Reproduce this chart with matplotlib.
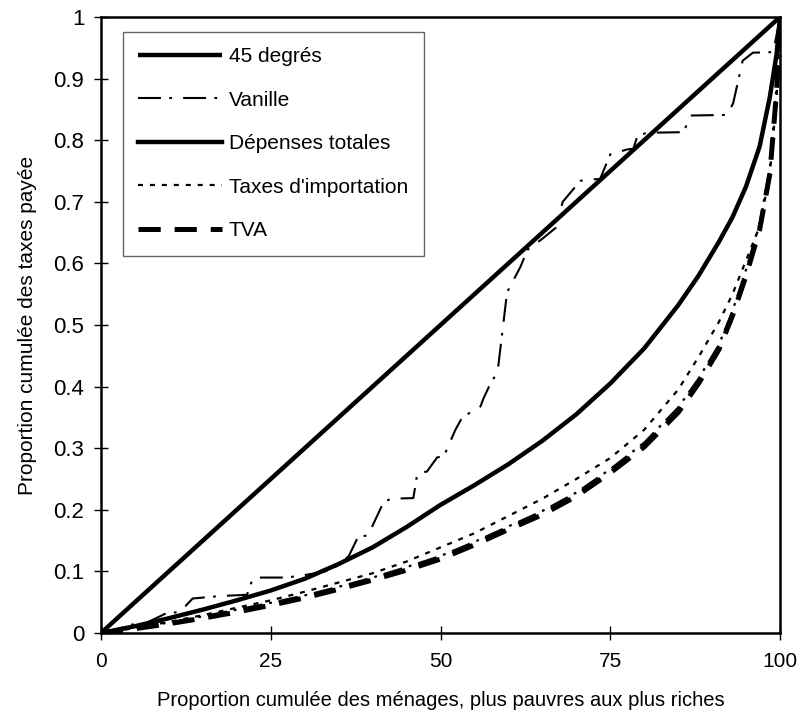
import numpy as np
import matplotlib
matplotlib.use("Agg")
import matplotlib.pyplot as plt

plt.rcParams['font.family'] = ['Liberation Sans', 'DejaVu Sans']
plt.rcParams['lines.scale_dashes'] = False

# Data
x_45 = [0, 100]
y_45 = [0, 1]

x_vanille = [0, 2, 4.7, 6.6, 9.6, 11.6, 13.5, 14.5, 17.5, 21.5, 22.4, 27.3, 30, 33, 35,
             36.5, 37.9, 39.3, 41.6, 42.7, 46, 46.6, 48, 49.5, 50.5, 52.2, 53.2, 55.9,
             56.3, 57.4, 58.4, 59.8, 61.8, 62.8, 65, 67, 68, 70.6, 71.8, 73.5, 75, 77.5,
             78.4, 79, 80.4, 85.8, 86.8, 92.2, 93.1, 94.5, 96, 99, 100]
y_vanille = [0, 0.005, 0.014, 0.016, 0.032, 0.034, 0.056, 0.057, 0.060, 0.062, 0.09,
             0.09, 0.094, 0.10, 0.11, 0.125, 0.157, 0.158, 0.212, 0.218, 0.219, 0.26,
             0.262, 0.285, 0.287, 0.33, 0.35, 0.368, 0.38, 0.406, 0.423, 0.553, 0.595,
             0.622, 0.64, 0.658, 0.70, 0.734, 0.736, 0.737, 0.777, 0.785, 0.786, 0.807,
             0.812, 0.813, 0.84, 0.841, 0.86, 0.929, 0.942, 0.943, 1.0]

x_grid = [0, 5, 10, 15, 20, 25, 30, 35, 40, 45, 50, 55, 60, 65, 70, 75, 80, 85, 88, 91,
          93, 95, 97, 98.5, 99.5, 100]

y_depenses = [0, 0.011, 0.024, 0.038, 0.053, 0.069, 0.088, 0.112, 0.139, 0.172, 0.208,
              0.24, 0.274, 0.312, 0.355, 0.405, 0.462, 0.532, 0.58, 0.635, 0.675, 0.725,
              0.79, 0.87, 0.94, 1.0]

y_import = [0, 0.008, 0.018, 0.029, 0.041, 0.053, 0.067, 0.082, 0.097, 0.116, 0.139,
            0.162, 0.19, 0.218, 0.25, 0.284, 0.33, 0.395, 0.448, 0.505, 0.55, 0.605,
            0.66, 0.745, 0.87, 1.0]

y_tva = [0, 0.007, 0.015, 0.024, 0.034, 0.045, 0.057, 0.071, 0.086, 0.102, 0.12, 0.143,
         0.168, 0.192, 0.222, 0.26, 0.302, 0.358, 0.405, 0.46, 0.515, 0.58, 0.655, 0.745,
         0.88, 1.0]

# unlabelled dash-dot curve lying almost on the TVA curve
y_autre = [0, 0.008, 0.017, 0.027, 0.038, 0.049, 0.061, 0.075, 0.09, 0.107, 0.125,
           0.148, 0.173, 0.198, 0.228, 0.266, 0.309, 0.366, 0.413, 0.468, 0.523, 0.59,
           0.665, 0.755, 0.89, 1.0]

x_ticks = [0, 25, 50, 75, 100]
y_ticks = [0, 0.1, 0.2, 0.3, 0.4, 0.5, 0.6, 0.7, 0.8, 0.9, 1]
y_ticklabels = ['0', '0.1', '0.2', '0.3', '0.4', '0.5', '0.6', '0.7', '0.8', '0.9', '1']

fig = plt.figure(figsize=(7.97, 7.13), dpi=100)
ax = fig.add_axes([0.1267, 0.1122, 0.852, 0.864])

ax.plot(x_45, y_45, color='black', lw=3.2, solid_capstyle='butt', label='45 degrés')
ax.plot(x_vanille, y_vanille, color='black', lw=1.5, dashes=(16.5, 6, 2, 8),
        label='Vanille')
ax.plot(x_grid, y_depenses, color='black', lw=3.2, label='Dépenses totales')
ax.plot(x_grid, y_import, color='black', lw=1.6, dashes=(3.6, 5),
        label="Taxes d'importation")
ax.plot(x_grid, y_autre, color='black', lw=1.6, dashes=(14, 5, 2, 5))
ax.plot(x_grid, y_tva, color='black', lw=3.6, dashes=(16, 10), label='TVA')

ax.set_xlim(0, 100)
ax.set_ylim(0, 1)
ax.set_xticks(x_ticks)
ax.set_yticks(y_ticks)
ax.set_yticklabels(y_ticklabels)
ax.tick_params(direction='inout', length=10, width=1, colors='black')
ax.tick_params(axis='y', pad=7, labelsize=16)
ax.tick_params(axis='x', pad=9, labelsize=15)
for s in ax.spines.values():
    s.set_linewidth(1.8)
    s.set_color('black')

ax.set_xlabel('Proportion cumulée des ménages, plus pauvres aux plus riches',
              fontsize=14.5, labelpad=14)
ax.set_ylabel('Proportion cumulée des taxes payée', fontsize=15, labelpad=12)

leg = ax.legend(loc='upper left', bbox_to_anchor=(0.032, 0.976), fontsize=15,
                handlelength=4.0, handletextpad=0.35, labelspacing=1.17,
                borderpad=0.75, borderaxespad=0, fancybox=False, frameon=True)
leg.get_frame().set_edgecolor('#404040')
leg.get_frame().set_linewidth(1.0)

fig.savefig('out.png', dpi=100, facecolor='white')
